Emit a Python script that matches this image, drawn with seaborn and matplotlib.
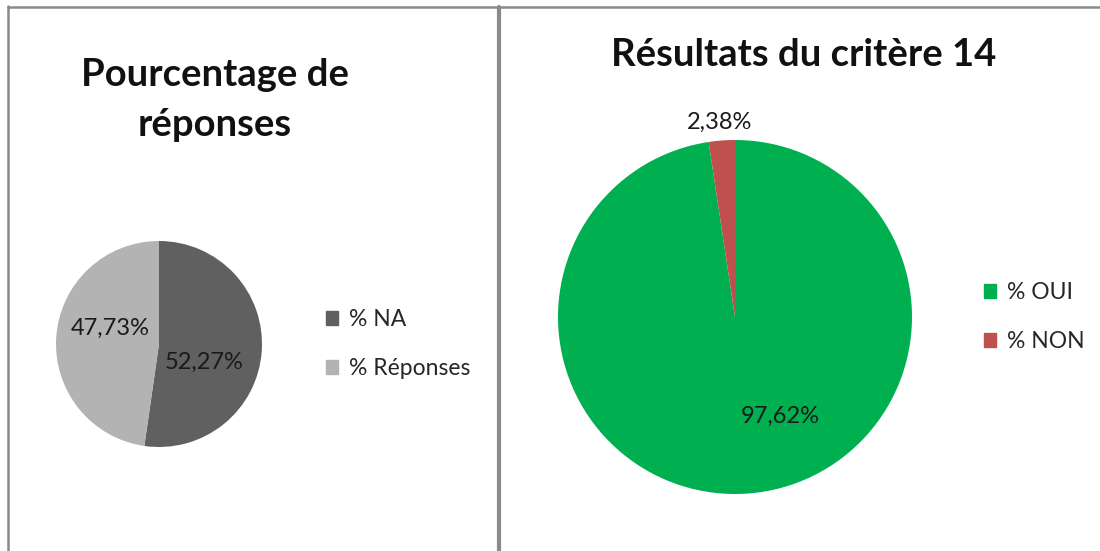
import matplotlib.pyplot as plt
import seaborn as sns
from matplotlib.lines import Line2D
from matplotlib.patches import Patch

# data
resp_labels = ['% NA', '% Réponses']
resp_values = [52.27, 47.73]
resp_colors = ['#606060', '#b3b3b3']

crit_labels = ['% OUI', '% NON']
crit_values = [97.62, 2.38]
crit_colors = ['#00b050', '#c0504d']

sns.set_theme(style='white')
plt.rcParams['font.family'] = ['Lato', 'DejaVu Sans']

W, H = 1100, 551
fig = plt.figure(figsize=(11, 5.51), dpi=100)


def px_axes(x0, y0, w, h):
    # axes from pixel box (top-left origin)
    return fig.add_axes([x0 / W, (H - y0 - h) / H, w / W, h / H])


def fmt(v):
    return f'{v:.2f}%'.replace('.', ',')


def draw_pie(ax, values, colors, label_pos):
    ax.pie(values, colors=colors, startangle=90, counterclock=False,
           wedgeprops=dict(linewidth=0))
    ax.set_xlim(-1.0, 1.0)
    ax.set_ylim(-1.0, 1.0)
    for v, (lx, ly) in zip(values, label_pos):
        ax.text(lx, ly, fmt(v), ha='center', va='center', fontsize=17,
                color='#1a1a1a', clip_on=False)


# left pie
ax1 = px_axes(56, 241, 206, 206)
draw_pie(ax1, resp_values, resp_colors, [(0.44, -0.18), (-0.47, 0.15)])

# right pie
ax2 = px_axes(558, 140, 354, 354)
draw_pie(ax2, crit_values, crit_colors, [(0.254, -0.56), (-0.085, 1.10)])

# titles
fig.text(215 / W, 1 - 100 / H, 'Pourcentage de\nréponses', ha='center',
         va='center', fontsize=27.5, fontweight='bold', linespacing=1.55,
         color='#111111')
fig.text(804 / W, 1 - 55 / H, 'Résultats du critère 14', ha='center',
         va='center', fontsize=27.5, fontweight='bold', color='#111111')

# legends
h1 = [Patch(color=c, label=l) for c, l in zip(resp_colors, resp_labels)]
fig.legend(handles=h1, loc='center left', bbox_to_anchor=(305 / W, 1 - 344 / H),
           frameon=False, fontsize=16.5, handlelength=0.55, handleheight=0.55,
           handletextpad=0.45, labelspacing=1.2)
h2 = [Patch(color=c, label=l) for c, l in zip(crit_colors, crit_labels)]
fig.legend(handles=h2, loc='center left', bbox_to_anchor=(963 / W, 1 - 317 / H),
           frameon=False, fontsize=16.5, handlelength=0.55, handleheight=0.55,
           handletextpad=0.45, labelspacing=1.2)

# panel borders
border = '#8a8a8a'
fig.add_artist(Line2D([8 / W, 8 / W], [0, 1 - 6 / H], color=border, lw=1.8))
fig.add_artist(Line2D([8 / W, 1], [1 - 7 / H, 1 - 7 / H], color=border, lw=1.8))
fig.add_artist(Line2D([498.5 / W, 498.5 / W], [0, 1 - 7 / H], color=border, lw=3))

fig.savefig('out.png', dpi=100, facecolor='white')
